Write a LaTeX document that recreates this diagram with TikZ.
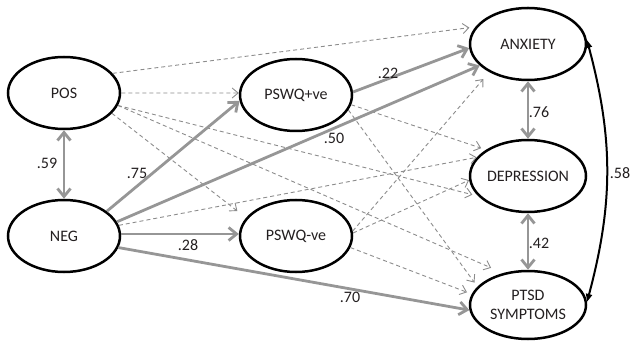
\documentclass[tikz,border=0pt]{standalone}
\usepackage{fontspec}
\setmainfont{Carlito}
\usetikzlibrary{shapes.geometric,arrows.meta}
\definecolor{arrgray}{RGB}{150,150,150}
\definecolor{dashgray}{RGB}{140,140,140}
\definecolor{txt}{RGB}{35,31,32}
\begin{document}
\begin{tikzpicture}[x=1pt,y=1pt,
  latent/.style={ellipse, draw=black, line width=2.5pt, minimum width=112pt, minimum height=72pt,
    inner sep=0pt, font=\fontsize{16}{19}\selectfont, text=txt, align=center},
  wide/.style={minimum width=116pt},
  sig/.style={draw=arrgray, line width=2.8pt, -{Straight Barb[length=8pt,width=13pt]}},
  sigboth/.style={draw=arrgray, line width=2.8pt, {Straight Barb[length=8pt,width=13pt]}-{Straight Barb[length=8pt,width=13pt]}},
  ns/.style={draw=dashgray, line width=0.9pt, dash pattern=on 4pt off 3pt, -{Straight Barb[length=6pt,width=10pt]}},
  corr/.style={draw=black, line width=2pt, {Triangle[length=8pt,width=6pt]}-{Triangle[length=8pt,width=6pt]}},
  lab/.style={font=\fontsize{16}{19}\selectfont, text=txt, inner sep=0pt}]
\useasboundingbox (0,0) rectangle (631,348);

% nodes
\node[latent] (pos) at (64,255) {POS};
\node[latent] (neg) at (64,112) {NEG};
\node[latent] (pswqp) at (296,253) {PSWQ+ve};
\node[latent] (pswqm) at (296,112) {PSWQ-ve};
\node[latent, wide] (anx) at (528,304) {ANXIETY};
\node[latent, wide] (dep) at (528,172) {DEPRESSION};
\node[latent, wide, minimum height=68pt] (ptsd) at (528,43) {PTSD\\SYMPTOMS};

% non-significant paths
\draw[ns, shorten >=6pt] (pos.22) -- (anx.162);
\draw[ns] (pos.0) -- (pswqp.178);
\draw[ns, shorten >=6pt] (pos.-13) -- (dep.202);
\draw[ns, shorten >=13pt] (pos.-13) -- (ptsd.128);
\draw[ns, shorten >=11pt] (pos.-23) -- (pswqm.160);
\draw[ns] (neg.11) -- (dep.160);
\draw[ns, shorten >=5pt] (pswqp.-10) -- (dep.148);
\draw[ns, shorten >=5pt] (pswqp.-16) -- (ptsd.160);
\draw[ns, shorten >=9pt] (pswqm.5) -- (anx.216);
\draw[ns] (pswqm.3) -- (dep.184);
\draw[ns, shorten >=5pt] (pswqm.-12) -- (ptsd.169);

% significant paths
\draw[sig] (neg.30) -- (pswqp.186);
\draw[sig] (neg.15) -- (anx.204);
\draw[sig] (neg.2) -- (pswqm.178);
\draw[sig] (neg.-12) -- (ptsd.185);
\draw[sig] (pswqp.3) -- (anx.184);
\draw[sigboth] (pos.south) -- (neg.north);
\draw[sigboth] (anx.south) -- (dep.north);
\draw[sigboth] (dep.south) -- (ptsd.north);
\draw[corr] (anx.4) to[bend left=15] (ptsd.3);

% labels
\node[lab] (l59) at (47,185) {.59};
\node[lab] (l75) at (137,175) {.75};
\node[lab] (l28) at (188,103) {.28};
\node[lab] (l22) at (388,275) {.22};
\node[lab] (l50) at (334,210) {.50};
\node[lab] (l70) at (350,51) {.70};
\node[lab] (l76) at (539,236) {.76};
\node[lab] (l42) at (539,105) {.42};
\node[lab] (l58) at (620,175) {.58};
\end{tikzpicture}
\end{document}
